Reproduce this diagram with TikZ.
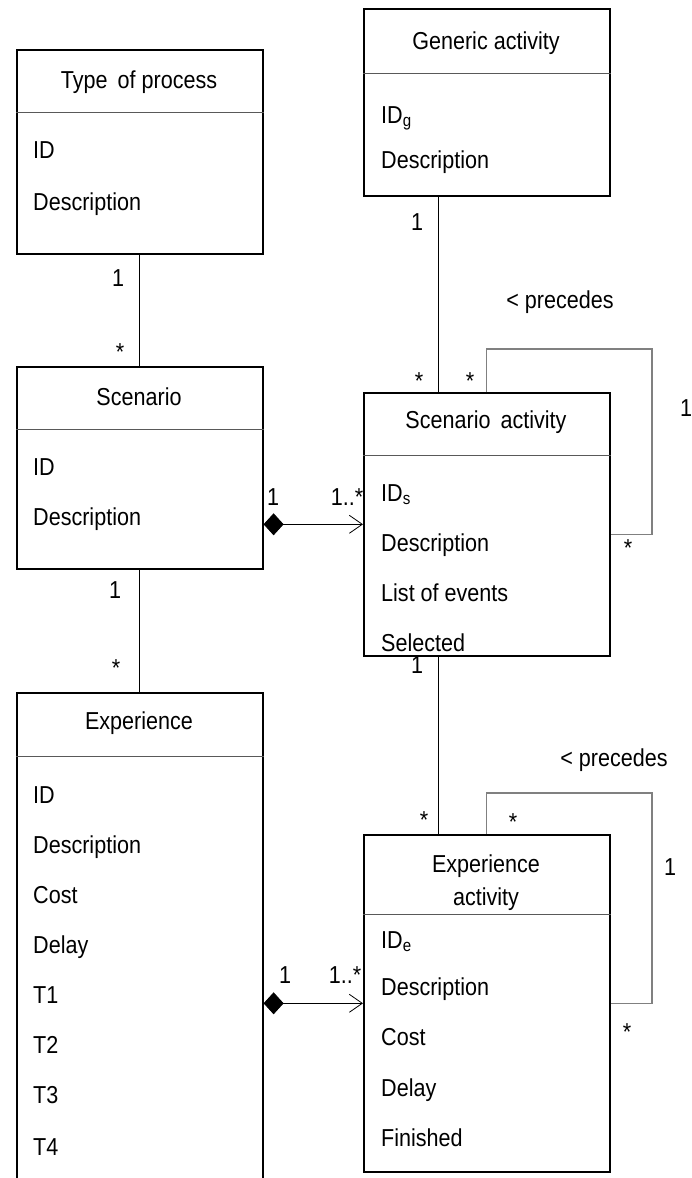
\documentclass[tikz,border=0pt]{standalone}
\usepackage{fontspec}
\setmainfont{Liberation Sans}[FakeStretch=0.88]
\usetikzlibrary{arrows.meta,positioning}

\begin{document}
\begin{tikzpicture}[x=1pt,y=-1pt,
      class_box/.style={
         rectangle,
         draw=black,
         line width=1.6pt,
         minimum width=246pt,
         inner sep=0pt,
         anchor=north west},
      class_title/.style={
         font=\fontsize{24.5}{33}\selectfont,
         align=center,
         inner sep=0pt},
      attr_text/.style={
         font=\fontsize{24.5}{28}\selectfont,
         anchor=west,
         inner sep=0pt,
         text height=17pt,
         text depth=5pt},
      mult/.style={
         font=\fontsize{24.5}{28}\selectfont,
         inner sep=0pt,
         text height=17pt,
         text depth=0pt},
      divider/.style={
         draw=gray!70!black,
         line width=0.9pt},
      link/.style={
         draw=black,
         line width=0.8pt},
      self_link/.style={
         draw=gray,
         line width=1.2pt},
      compo_arrow/.style={
         {Diamond[length=20pt,width=22pt]}-{Straight Barb[length=13pt,width=18pt]},
         line width=0.8pt}
]
      \useasboundingbox (0,0) rectangle (692,1178);
      \clip (0,0) rectangle (692,1178);

      %classes
      \node[class_box,minimum height=204pt] (typeproc) at (16,49) {};
      \node[class_box,minimum height=187pt] (genact) at (363,8) {};
      \node[class_box,minimum height=202pt] (scen) at (16,366) {};
      \node[class_box,minimum height=263pt] (scenact) at (363,392) {};
      \node[class_box,minimum height=503pt] (exper) at (16,692) {};
      \node[class_box,minimum height=337pt] (experact) at (363,834) {};

      %titles
      \node[class_title] (typeproc-t) at (139,82) {Type\, of process};
      \node[class_title] (genact-t) at (486,43) {Generic activity};
      \node[class_title] (scen-t) at (139,397) {Scenario};
      \node[class_title] (scenact-t) at (486,422) {Scenario\, activity};
      \node[class_title] (exper-t) at (139,723) {Experience};
      \node[class_title] (experact-t) at (486,883) {Experience\\activity};

      \foreach \b/\y in {typeproc/112, genact/73, scen/429, scenact/455, exper/756, experact/914}
        \draw[divider] (\b.west |- 0,\y) -- (\b.east |- 0,\y);

      %attributes
      \foreach \y/\txt [count=\k] in {152/ID, 204/Description}
        \node[attr_text] (typeproc-a\k) at (33,\y) {\txt};
      \foreach \y/\txt [count=\k] in {117/ID\textsubscript{g}, 162/Description}
        \node[attr_text] (genact-a\k) at (381,\y) {\txt};
      \foreach \y/\txt [count=\k] in {469/ID, 519/Description}
        \node[attr_text] (scen-a\k) at (33,\y) {\txt};
      \foreach \y/\txt [count=\k] in {495/ID\textsubscript{s}, 545/Description, 595/List of events, 645/Selected}
        \node[attr_text] (scenact-a\k) at (381,\y) {\txt};
      \foreach \y/\txt [count=\k] in {797/ID, 847/Description, 897/Cost, 947/Delay, 997/T1, 1047/T2, 1097/T3, 1149/T4}
        \node[attr_text] (exper-a\k) at (33,\y) {\txt};
      \foreach \y/\txt [count=\k] in {942/ID\textsubscript{e}, 989/Description, 1039/Cost, 1090/Delay, 1140/Finished}
        \node[attr_text] (experact-a\k) at (381,\y) {\txt};

      %associations
      \draw[link] (typeproc.south) -- (scen.north);
      \draw[link] (scen.south) -- (exper.north);
      \draw[link] ([xshift=-48pt]genact.south) -- ([xshift=-48pt]scenact.north);
      \draw[link] ([xshift=-48pt]scenact.south) -- ([xshift=-48pt]experact.north);
      \draw[compo_arrow] (scen.east |- scenact.west) -- (scenact.west);
      \draw[compo_arrow] (exper.east |- experact.west) -- (experact.west);

      %precedes
      \draw[self_link] (scenact.north) |- (652,349) |- ([yshift=-10pt]scenact.east);
      \draw[self_link] (experact.north) |- (652,793) |- (experact.east);

      %multiplicities
      \foreach \n/\x/\y/\txt in {
        m1/118/278/1, m2/120/352/*,
        m3/115/590/1, m4/116/668/*,
        m5/417/222/1, m6/419/381/*,
        m7/470/381/*, m8/686/408/1, m9/628/548/*,
        m10/273/497/1, m11/347/497/1..*,
        m12/417/665/1, m13/424/820/*,
        m14/513/822/*, m15/670/867/1, m16/627/1032/*,
        m17/285/975/1, m18/345/975/1..*}
        \node[mult] (\n) at (\x,\y) {\txt};

      \node[mult] (prec1) at (560,300) {< precedes};
      \node[mult] (prec2) at (614,758) {< precedes};
\end{tikzpicture}
\end{document}
